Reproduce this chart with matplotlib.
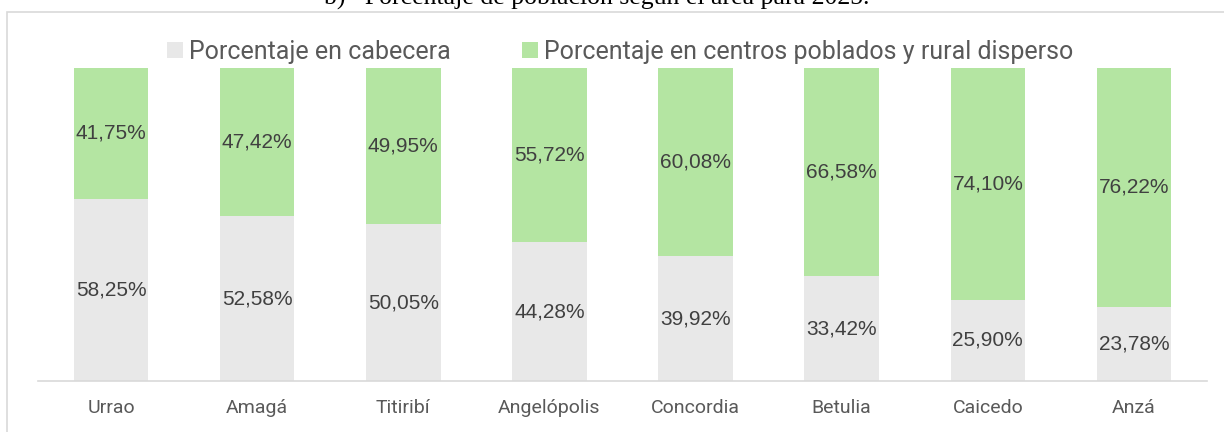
import matplotlib.pyplot as plt
from matplotlib.patches import Rectangle

municipios = ["Urrao", "Amagá", "Titiribí", "Angelópolis", "Concordia", "Betulia", "Caicedo", "Anzá"]
cabecera = [58.25, 52.58, 50.05, 44.28, 39.92, 33.42, 25.90, 23.78]
rural = [41.75, 47.42, 49.95, 55.72, 60.08, 66.58, 74.10, 76.22]

GRIS = "#E8E8E8"
VERDE = "#B4E5A2"
TEXTO = "#404040"

plt.rcParams['font.family'] = ['Roboto', 'DejaVu Sans']

fig = plt.figure(figsize=(12.24, 4.32), dpi=100)
W, H = 1224, 432

# marco del gráfico
fig.patches.append(Rectangle((7 / W, -0.01), 1.2, 1 - 12 / H + 0.01, transform=fig.transFigure,
                             fill=False, edgecolor="#D9D9D9", linewidth=1.2))

# título (cortado arriba, como en la imagen original)
fig.text(597 / W, 1 - 5 / H, "b)   Porcentaje de población según el área para 2025.",
         ha="center", va="baseline", fontsize=18.5, family="Liberation Serif", color="black")

ax = fig.add_axes([38 / W, 51 / H, (1207 - 38) / W, (381 - 68) / H])
x = range(len(municipios))
ax.bar(x, cabecera, width=0.51, color=GRIS, label="Porcentaje en cabecera")
ax.bar(x, rural, width=0.51, bottom=cabecera, color=VERDE,
       label="Porcentaje en centros poblados y rural disperso")

for i in x:
    ax.text(i, cabecera[i] / 2, f"{cabecera[i]:.2f}%".replace(".", ","),
            ha="center", va="center", fontsize=15, color=TEXTO, family="Liberation Sans")
    ax.text(i, cabecera[i] + rural[i] / 2, f"{rural[i]:.2f}%".replace(".", ","),
            ha="center", va="center", fontsize=15, color=TEXTO, family="Liberation Sans")

ax.set_xlim(-0.5, len(municipios) - 0.5)
ax.set_ylim(0, 100)
ax.set_xticks(list(x))
ax.set_xticklabels(municipios, fontsize=14, color="#595959")
ax.tick_params(axis="x", length=0, pad=13)
ax.set_yticks([])
for s in ["top", "right", "left"]:
    ax.spines[s].set_visible(False)
ax.spines["bottom"].set_color("#D9D9D9")
ax.spines["bottom"].set_linewidth(1.2)

fig.legend(loc="center", bbox_to_anchor=(620 / W, 1 - 52 / H), ncol=2, frameon=False,
           fontsize=18, labelcolor="#595959", handlelength=0.64, handleheight=0.64,
           handletextpad=0.25, columnspacing=2.85, borderpad=0.1)

fig.savefig("out.png", dpi=100)
